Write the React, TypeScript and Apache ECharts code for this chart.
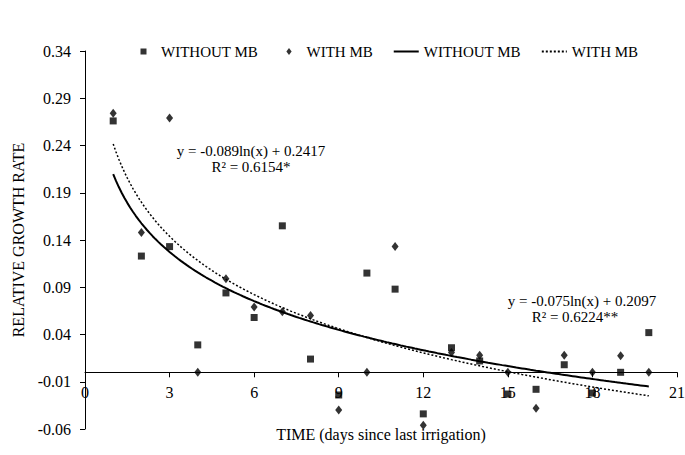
import React, { useEffect, useRef } from "react";
import * as echarts from "echarts";

const days = [1, 2, 3, 4, 5, 6, 7, 8, 9, 10, 11, 12, 13, 14, 15, 16, 17, 18, 19, 20];
const withoutMB = [0.266, 0.123, 0.133, 0.029, 0.084, 0.058, 0.155, 0.014, -0.024, 0.105, 0.088, -0.044, 0.026, 0.012, -0.023, -0.018, 0.008, -0.022, 0.0, 0.042];
const withMB = [0.274, 0.148, 0.269, 0.0, 0.099, 0.069, 0.064, 0.06, -0.04, 0.0, 0.133, -0.056, 0.021, 0.018, 0.0, -0.038, 0.018, 0.0, 0.0175, 0.0];
const yTicks = [-0.06, -0.01, 0.04, 0.09, 0.14, 0.19, 0.24, 0.29, 0.34];
// logarithmic trend lines as printed on the chart: y = a ln(x) + b
const fitWithout = [-0.075, 0.2097];
const fitWith = [-0.089, 0.2417];
const eqWithout = ["y = -0.075ln(x) + 0.2097", "R² = 0.6224**"];
const eqWith = ["y = -0.089ln(x) + 0.2417", "R² = 0.6154*"];

const FONT = "'Liberation Serif', 'Times New Roman', serif";
const Y_MIN = -0.06;
const Y_MAX = 0.34;
const GRID_TOP = 51;
const GRID_BOTTOM = 26;
const H = 455;

// legend icons: small marker centred in a 25x7 box (outer moveTo points fix the box)
const ICON_SQUARE = "path://M0 0M25 7M9.5 0.5H15.5V6.5H9.5Z";
const ICON_DIAMOND = "path://M0 0M25 7M12.5 -0.5L15.5 3.5L12.5 7.5L9.5 3.5Z";

function trend(fit: number[]) {
  const pts: number[][] = [];
  for (let i = 0; i <= 190; i++) {
    const x = 1 + i * 0.1;
    pts.push([x, fit[0] * Math.log(x) + fit[1]]);
  }
  return pts;
}

export default function App() {
  const ref = useRef<HTMLDivElement>(null);
  useEffect(() => {
    if (!ref.current) return;
    const chart = echarts.init(ref.current, null, { renderer: "svg" });
    const plotH = H - GRID_TOP - GRID_BOTTOM;
    const zeroOffset = -((0 - Y_MIN) / (Y_MAX - Y_MIN)) * plotH;
    chart.setOption({
      animation: false,
      backgroundColor: "#fff",
      textStyle: { fontFamily: FONT, color: "#000" },
      grid: { left: 85, right: 8, top: GRID_TOP, bottom: GRID_BOTTOM, containLabel: false, outerBoundsMode: "none" },
      legend: {
        top: 39,
        left: 126,
        itemWidth: 25,
        itemHeight: 7,
        itemGap: 20,
        textStyle: { fontFamily: FONT, fontSize: 15, color: "#000" },
        formatter: (n: string) => n.replace(" trend", ""),
        data: [
          { name: "WITHOUT MB", icon: ICON_SQUARE },
          { name: "WITH MB", icon: ICON_DIAMOND },
          { name: "WITHOUT MB trend", itemStyle: { opacity: 0 } },
          { name: "WITH MB trend", itemStyle: { opacity: 0 } },
        ],
      },
      xAxis: {
        type: "value",
        min: 0,
        max: 21,
        interval: 3,
        position: "bottom",
        offset: zeroOffset,
        name: "TIME (days since last irrigation)",
        nameLocation: "middle",
        nameGap: 54,
        nameTextStyle: { fontFamily: FONT, fontSize: 16, color: "#000" },
        axisLine: { show: true, onZero: false, lineStyle: { color: "#000", width: 1 } },
        axisTick: { show: true, inside: false, length: 5, lineStyle: { color: "#000" } },
        axisLabel: { fontFamily: FONT, fontSize: 16, color: "#000", margin: 12 },
        splitLine: { show: false },
      },
      yAxis: {
        type: "value",
        min: Y_MIN,
        max: Y_MAX,
        name: "RELATIVE GROWTH RATE",
        nameLocation: "middle",
        nameGap: 55,
        nameTextStyle: { fontFamily: FONT, fontSize: 16, color: "#000" },
        axisLine: { show: true, onZero: false, lineStyle: { color: "#000", width: 1 } },
        axisTick: { show: true, inside: false, length: 5, customValues: yTicks, lineStyle: { color: "#000" } },
        axisLabel: {
          fontFamily: FONT,
          fontSize: 16,
          color: "#000",
          margin: 14,
          customValues: yTicks,
          formatter: (v: number) => v.toFixed(2),
        },
        splitLine: { show: false },
      },
      graphic: [
        { type: "text", x: 251, y: 151, style: { text: eqWith[0], font: `15px ${FONT}`, fill: "#000", textAlign: "center", textVerticalAlign: "middle" } },
        { type: "text", x: 251, y: 167, style: { text: eqWith[1], font: `15px ${FONT}`, fill: "#000", textAlign: "center", textVerticalAlign: "middle" } },
        { type: "text", x: 582, y: 301, style: { text: eqWithout[0], font: `15px ${FONT}`, fill: "#000", textAlign: "center", textVerticalAlign: "middle" } },
        { type: "text", x: 575, y: 317, style: { text: eqWithout[1], font: `15px ${FONT}`, fill: "#000", textAlign: "center", textVerticalAlign: "middle" } },
      ],
      series: [
        {
          name: "WITHOUT MB trend",
          type: "line",
          data: trend(fitWithout),
          symbol: "none",
          showSymbol: false,
          lineStyle: { color: "#000", width: 2, type: "solid" },
          itemStyle: { color: "#000" },
          z: 2,
        },
        {
          name: "WITH MB trend",
          type: "line",
          data: trend(fitWith),
          symbol: "none",
          showSymbol: false,
          lineStyle: { color: "#000", width: 1.5, type: [2, 2] },
          itemStyle: { color: "#000" },
          z: 2,
        },
        {
          name: "WITHOUT MB",
          type: "scatter",
          symbol: "rect",
          symbolSize: 7,
          data: days.map((d, i) => [d, withoutMB[i]]),
          itemStyle: { color: "#000" },
          z: 3,
        },
        {
          name: "WITH MB",
          type: "scatter",
          symbol: "diamond",
          symbolSize: [7, 9],
          data: days.map((d, i) => [d, withMB[i]]),
          itemStyle: { color: "#000" },
          z: 3,
        },
      ],
    });
    return () => chart.dispose();
  }, []);
  return <div ref={ref} style={{ position: "absolute", left: 0, top: 0, width: 685, height: 455 }} />;
}
